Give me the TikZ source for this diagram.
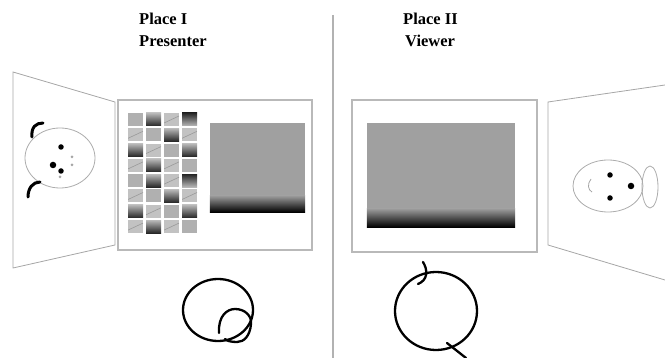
\documentclass[tikz,border=0pt]{standalone}
\usepackage{fontspec}
\setmainfont{Liberation Serif}
\definecolor{imgray}{RGB}{160,160,160}
\begin{document}
\begin{tikzpicture}[
  x = 1pt, y = -1pt,
  title/.style = {
    anchor = base west,
    inner sep = 0pt,
    font = \bfseries\fontsize{16.5}{19}\selectfont
  },
  panel/.style = {
    draw = gray!70,
    line width = 0.8pt
  },
  screen/.style = {
    draw = gray!55,
    line width = 1.6pt,
    inner sep = 0pt
  },
  slide/.style = {
    fill = imgray,
    inner sep = 0pt
  },
  face/.style = {
    draw = gray!65,
    line width = 0.8pt
  },
  dot/.style = {
    shape = circle,
    fill = black,
    minimum size = 5.5pt,
    inner sep = 0pt,
    outer sep = 0pt
  },
  speck/.style = {dot, fill = gray!70, minimum size = 3pt},
  hair/.style = {line width = 3pt, line cap = round},
  doodle/.style = {line width = 2.3pt, line cap = round},
  thumb/.style = {inner sep = 0pt, minimum width = 15pt, minimum height = 13pt},
  thumb m/.style = {thumb, fill = gray!62},
  thumb l/.style = {thumb, fill = gray!48,
    path picture = {\draw[gray!80, line width = 0.6pt]
      ([yshift = 3pt]path picture bounding box.south west) --
      ([yshift = -3pt]path picture bounding box.north east);}},
  thumb t/.style = {thumb, top color = black!85, bottom color = gray!55},
  thumb b/.style = {thumb, top color = gray!55, bottom color = black!85}
]
  \useasboundingbox (0,0) rectangle (665,358);

  % titles
  \node[title] (placeA) at (139,25) {Place I};
  \node[title] (roleA) at (139,47) {Presenter};
  \node[title] (placeB) at (403,25) {Place II};
  \node[title] (roleB) at (405,47) {Viewer};

  \draw[gray!60, line width = 2pt] (333,15) -- (333,358);

  % presenter side
  \draw[panel] (13,72) -- (115,102) -- (115,245) -- (13,268) -- cycle;
  \draw[face] (60,158) ellipse (35pt and 30pt);
  \draw[hair] (32,137) .. controls (31,127) and (36,123) .. (43,123);
  \draw[hair] (28,197) .. controls (28,188) and (33,182) .. (40,182);
  \node[dot] (eyeA1) at (61,147) {};
  \node[dot, minimum size = 6.5pt] (eyeA2) at (53,165) {};
  \node[dot] (eyeA3) at (61,171) {};
  \node[speck] (speckA1) at (60,177) {};
  \node[speck] (speckA2) at (72,157) {};
  \node[speck] (speckA3) at (72,165) {};

  \node[screen, minimum width = 194pt, minimum height = 150pt] (screenA) at (215,175) {};
  \foreach \row [count = \r from 0] in
    {{m,b,l,t},{l,m,b,l},{b,l,m,b},{l,b,l,m},{m,b,l,t},{l,m,b,l},{b,l,m,b},{l,b,l,m}}
    \foreach \kind [count = \c from 0] in \row
      \node[thumb \kind] (thumb-\r-\c) at (135.5 + 18*\c, 119.5 + 15.3*\r) {};
  \node[slide, minimum width = 95pt, minimum height = 89pt] (slideA) at (257.5,167.5) {};
  \shade[top color = imgray, bottom color = black]
    ([yshift = 17pt]slideA.south west) rectangle (slideA.south east);

  \draw[doodle] (218,310) ellipse (35pt and 31pt);
  \draw[doodle] (219,333) .. controls (218,316) and (227,309) .. (235,309)
    .. controls (245,309) and (252,316) .. (251,324)
    .. controls (250,336) and (244,342) .. (237,342)
    .. controls (231,342) and (227,341) .. (225,339);

  % viewer side
  \node[screen, line width = 1.2pt, minimum width = 185pt, minimum height = 152pt] (screenB) at (444.5,176) {};
  \node[slide, minimum width = 148pt, minimum height = 104pt] (slideB) at (441,175) {};
  \shade[top color = imgray, bottom color = black]
    ([yshift = 19pt]slideB.south west) rectangle (slideB.south east);

  \draw[panel] (665,85) -- (548,102) -- (548,245) -- (665,280);
  \draw[face] (608,186) ellipse (35pt and 26pt);
  \draw[face] (650,187) ellipse (8pt and 21pt);
  \draw[gray!70, line width = 0.8pt] (591,179) .. controls (587,184) and (588,190) .. (592,192);
  \node[dot] (eyeB1) at (610,175) {};
  \node[dot] (eyeB2) at (610,198) {};
  \node[dot, minimum size = 6.5pt] (eyeB3) at (631,186) {};

  \draw[doodle] (436,311) ellipse (41pt and 39pt);
  \draw[doodle] (423,262) .. controls (428,270) and (428,280) .. (418,284);
  \draw[doodle] (447,343) -- (466,358);
\end{tikzpicture}
\end{document}
